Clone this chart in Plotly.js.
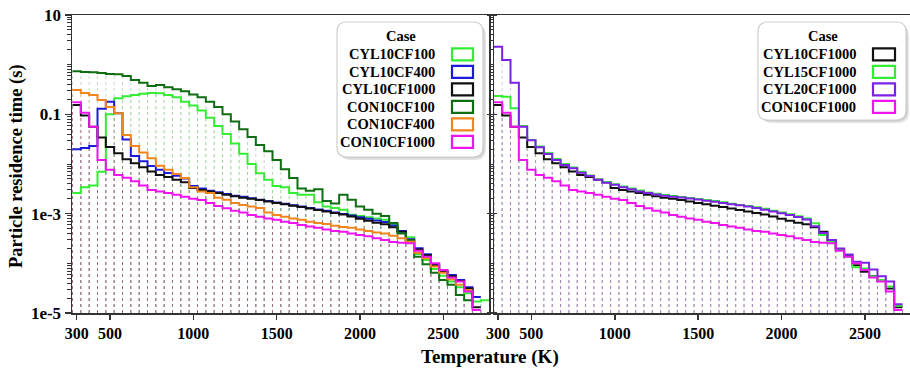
<!DOCTYPE html>
<html>
<head>
<meta charset="utf-8">
<script src="https://cdn.plot.ly/plotly-3.0.1.min.js"></script>
<style>
  html, body { margin: 0; padding: 0; background: #fff; }
  #chart { width: 910px; height: 371px; }
</style>
</head>
<body>
<div id="chart"></div>
<script>
// Temperature bin centres (K), 50 K wide bins
const tempBins = [300, 350, 400, 450, 500, 550, 600, 650, 700, 750,
  800, 850, 900, 950, 1000, 1050, 1100, 1150, 1200, 1250,
  1300, 1350, 1400, 1450, 1500, 1550, 1600, 1650, 1700, 1750,
  1800, 1850, 1900, 1950, 2000, 2050, 2100, 2150, 2200, 2250,
  2300, 2350, 2400, 2450, 2500, 2550, 2600, 2650, 2700, 2750];

// Particle residence time (s) per temperature bin
const cyl10cf100 = [0.0026, 0.0034, 0.0037, 0.007, 0.1, 0.21, 0.23, 0.245, 0.26, 0.27,
  0.265, 0.245, 0.22, 0.18, 0.15, 0.12, 0.085, 0.058, 0.04, 0.026,
  0.016, 0.01, 0.0065, 0.0048, 0.0036, 0.0034, 0.0026, 0.0024, 0.0024, 0.0017,
  0.0014, 0.0013, 0.0012, 0.00095, 0.0009, 0.00085, 0.0008, 0.00075, 0.0006, 0.00045,
  0.000334, 0.000154, 0.000117, 0.000077, 0.000056, 0.000043, 0.000033, 0.000025, 0.000017, 0.000018];

const cyl10cf400 = [0.0197, 0.021, 0.023, 0.13, 0.18, 0.105, 0.031, 0.0145, 0.0113, 0.0091,
  0.0077, 0.0066, 0.0058, 0.0051, 0.0036, 0.0032, 0.0029, 0.0027, 0.0025, 0.0023,
  0.0022, 0.00205, 0.0019, 0.0018, 0.00168, 0.00158, 0.00148, 0.0014, 0.0013, 0.00122,
  0.00114, 0.00106, 0.00099, 0.00092, 0.00085, 0.00079, 0.00073, 0.00068, 0.00058, 0.00045,
  0.000305, 0.000201, 0.000152, 0.000097, 0.00007, 0.000058, 0.000046, 0.000033, 0.000021, null];

const cyl10cf1000 = [0.155, 0.095, 0.056, 0.034, 0.022, 0.0165, 0.0125, 0.0104, 0.0086, 0.0071,
  0.006, 0.0055, 0.0048, 0.0043, 0.0033, 0.003, 0.0028, 0.0026, 0.0024, 0.00225,
  0.0021, 0.002, 0.00188, 0.00175, 0.00164, 0.00154, 0.00145, 0.00136, 0.00127, 0.00119,
  0.00111, 0.00103, 0.00096, 0.00088, 0.00079, 0.00072, 0.00066, 0.00061, 0.00053, 0.00043,
  0.00029, 0.00019, 0.000145, 0.000092, 0.000068, 0.000055, 0.000044, 0.000031, 0.000013, null];

const con10cf100 = [0.74, 0.71, 0.70, 0.68, 0.65, 0.64, 0.59, 0.49, 0.43, 0.37,
  0.39, 0.35, 0.32, 0.29, 0.25, 0.22, 0.18, 0.14, 0.10, 0.072,
  0.05, 0.035, 0.024, 0.018, 0.012, 0.0078, 0.0052, 0.0032, 0.0029, 0.0031,
  0.0018, 0.0016, 0.0024, 0.0019, 0.0014, 0.0012, 0.001, 0.0009, 0.00065, 0.0004,
  0.00029, 0.000136, 0.000096, 0.000065, 0.000046, 0.000037, 0.000023, 0.000018, null, null];

const con10cf400 = [0.31, 0.27, 0.245, 0.195, 0.14, 0.105, 0.0385, 0.023, 0.017, 0.013,
  0.0092, 0.0077, 0.0063, 0.0052, 0.0034, 0.0028, 0.0026, 0.0021, 0.0019, 0.00164,
  0.0015, 0.0014, 0.0013, 0.00105, 0.00094, 0.00087, 0.0008, 0.00075, 0.00069, 0.00065,
  0.00062, 0.00057, 0.00054, 0.00052, 0.00048, 0.00045, 0.00042, 0.0004, 0.00036, 0.00032,
  0.000273, 0.000164, 0.000126, 0.000086, 0.000065, 0.000048, 0.000037, 0.000029, null, null];

const con10cf1000 = [0.175, 0.107, 0.056, 0.012, 0.0077, 0.006, 0.0053, 0.0045, 0.0037, 0.003,
  0.0028, 0.0026, 0.0024, 0.0022, 0.002, 0.00189, 0.00164, 0.00143, 0.00128, 0.00115,
  0.00105, 0.00094, 0.00087, 0.0008, 0.00075, 0.00069, 0.00065, 0.00059, 0.00055, 0.00052,
  0.00048, 0.00045, 0.00043, 0.0004, 0.00037, 0.00035, 0.00032, 0.000295, 0.00027, 0.00026,
  0.000253, 0.00018, 0.000136, 0.0001, 0.000073, 0.000052, 0.000043, 0.000027, 0.0000115, null];

const cyl15cf1000 = [0.234, 0.226, 0.132, 0.058, 0.0304, 0.0225, 0.0167, 0.0126, 0.01, 0.0085,
  0.007, 0.0059, 0.0049, 0.00434, 0.0039, 0.00353, 0.0032, 0.00293, 0.00268, 0.00253,
  0.00238, 0.00227, 0.00217, 0.00207, 0.00198, 0.00189, 0.0018, 0.00169, 0.00159, 0.0015,
  0.00143, 0.00134, 0.00125, 0.00115, 0.00106, 0.00097, 0.00089, 0.0008, 0.00064, 0.00037,
  0.000275, 0.00019, 0.000136, 0.000083, 0.000079, 0.000054, 0.000046, 0.000034, 0.000014, null];

const cyl20cf1000 = [2.3, 1.24, 0.43, 0.056, 0.03, 0.0217, 0.0159, 0.0121, 0.0096, 0.0082,
  0.0067, 0.0057, 0.0048, 0.0042, 0.0038, 0.0034, 0.0031, 0.0028, 0.0026, 0.00244,
  0.0023, 0.0022, 0.00212, 0.00203, 0.00193, 0.00183, 0.00174, 0.00164, 0.00154, 0.00147,
  0.0014, 0.0013, 0.0012, 0.0011, 0.00102, 0.00094, 0.00086, 0.00076, 0.00056, 0.00041,
  0.000295, 0.0002, 0.00015, 0.000108, 0.000103, 0.000075, 0.000055, 0.000043, 0.000015, null];

// Cases shown in each panel, in legend order
const leftCases = ['CYL10CF100', 'CYL10CF400', 'CYL10CF1000', 'CON10CF100', 'CON10CF400', 'CON10CF1000'];
const rightCases = ['CYL10CF1000', 'CYL15CF1000', 'CYL20CF1000', 'CON10CF1000'];

// Axis ticks
const xTickVals = [300, 500, 1000, 1500, 2000, 2500];
const yTickVals = [1e-5, 1e-3, 0.1, 10];
const yTickText = ['1e-5', '1e-3', '0.1', '10'];

const caseValues = {
  CYL10CF100: cyl10cf100, CYL10CF400: cyl10cf400, CYL10CF1000: cyl10cf1000,
  CON10CF100: con10cf100, CON10CF400: con10cf400, CON10CF1000: con10cf1000,
  CYL15CF1000: cyl15cf1000, CYL20CF1000: cyl20cf1000
};
const caseColor = {
  CYL10CF100: '#35ec35', CYL10CF400: '#1c1cd8', CYL10CF1000: '#111111',
  CON10CF100: '#0f6e12', CON10CF400: '#f0851f', CON10CF1000: '#ee14ee',
  CYL15CF1000: '#35ec35', CYL20CF1000: '#7b22e4'
};

const halfBin = (tempBins[1] - tempBins[0]) / 2;
const edges = tempBins.map(t => t - halfBin).concat([tempBins[tempBins.length - 1] + halfBin]);
const yFloor = 1e-5;

// Solid step outline of a histogram
function stepTrace(vals, color, xa, ya) {
  let last = vals.length - 1;
  while (last >= 0 && vals[last] == null) last--;
  return {
    type: 'scatter', mode: 'lines', xaxis: xa, yaxis: ya,
    x: edges.slice(0, last + 2),
    y: vals.slice(0, last + 1).concat([vals[last]]),
    line: { shape: 'hv', color: color, width: 2 },
    hoverinfo: 'skip', showlegend: false
  };
}

// Faint dotted bar edges dropping to the axis floor
function edgeTrace(vals, color, xa, ya) {
  const x = [], y = [];
  for (let i = 0; i <= vals.length; i++) {
    const a = i > 0 ? vals[i - 1] : null;
    const b = i < vals.length ? vals[i] : null;
    const top = Math.max(a || 0, b || 0);
    if (!top) continue;
    x.push(edges[i], edges[i], null);
    y.push(yFloor, top, null);
  }
  return {
    type: 'scatter', mode: 'lines', xaxis: xa, yaxis: ya, x: x, y: y,
    line: { color: color, width: 1, dash: 'dot' }, opacity: 0.25,
    hoverinfo: 'skip', showlegend: false
  };
}

const traces = [];
leftCases.forEach(c => traces.push(edgeTrace(caseValues[c], caseColor[c], 'x', 'y')));
rightCases.forEach(c => traces.push(edgeTrace(caseValues[c], caseColor[c], 'x2', 'y2')));
leftCases.forEach(c => traces.push(stepTrace(caseValues[c], caseColor[c], 'x', 'y')));
rightCases.forEach(c => traces.push(stepTrace(caseValues[c], caseColor[c], 'x2', 'y2')));

// Page geometry (pixels) for the plot area
const M = { l: 72, r: 0, t: 15, b: 58 };
const W = 910 - M.l - M.r, H = 371 - M.t - M.b;
const PX = v => (v - M.l) / W;
const PY = v => (M.t + H - v) / H;

const serif = 'Liberation Serif, Times New Roman, serif';
const tickFont = { family: serif, size: 16, color: '#000', weight: 'bold' };
const legendFont = { family: serif, size: 14.5, color: '#000', weight: 'bold' };

function roundedPath(x0, y0, x1, y1, r) {
  const X = v => PX(v).toFixed(5), Y = v => PY(v).toFixed(5);
  return `M${X(x0 + r)},${Y(y0)} L${X(x1 - r)},${Y(y0)} Q${X(x1)},${Y(y0)} ${X(x1)},${Y(y0 + r)} ` +
    `L${X(x1)},${Y(y1 - r)} Q${X(x1)},${Y(y1)} ${X(x1 - r)},${Y(y1)} ` +
    `L${X(x0 + r)},${Y(y1)} Q${X(x0)},${Y(y1)} ${X(x0)},${Y(y1 - r)} ` +
    `L${X(x0)},${Y(y0 + r)} Q${X(x0)},${Y(y0)} ${X(x0 + r)},${Y(y0)} Z`;
}

const shapes = [];
const annotations = [];

// Hand-built legend: right-aligned names with outlined swatches on the right
function addLegend(cases, box, textRight, swatchX0, swatchX1, titleX) {
  shapes.push({ type: 'path', xref: 'paper', yref: 'paper', layer: 'above',
    path: roundedPath(box[0] + 3, box[1] + 3, box[2] + 3, box[3] + 3, 11),
    fillcolor: 'rgba(0,0,0,0.10)', line: { width: 0 } });
  shapes.push({ type: 'path', xref: 'paper', yref: 'paper', layer: 'above',
    path: roundedPath(box[0] + 1.5, box[1] + 1.5, box[2] + 1.5, box[3] + 1.5, 11),
    fillcolor: 'rgba(0,0,0,0.10)', line: { width: 0 } });
  shapes.push({ type: 'path', xref: 'paper', yref: 'paper', layer: 'above',
    path: roundedPath(box[0], box[1], box[2], box[3], 10),
    fillcolor: '#ffffff', line: { color: '#d0d0d0', width: 1.2 } });
  annotations.push({ xref: 'paper', yref: 'paper', x: PX(titleX), y: PY(36),
    xanchor: 'center', yanchor: 'middle', showarrow: false, text: 'Case', font: legendFont });
  cases.forEach((c, i) => {
    const rowY = 54.3 + i * 17.5;
    annotations.push({ xref: 'paper', yref: 'paper', x: PX(textRight), y: PY(rowY),
      xanchor: 'right', yanchor: 'middle', showarrow: false, text: c, font: legendFont });
    shapes.push({ type: 'rect', xref: 'paper', yref: 'paper', layer: 'above',
      x0: PX(swatchX0), x1: PX(swatchX1), y0: PY(rowY - 6), y1: PY(rowY + 6),
      fillcolor: '#ffffff', line: { color: caseColor[c], width: 2.2 } });
  });
}
addLegend(leftCases, [337, 22, 483, 157], 437, 452, 473, 401);
addLegend(rightCases, [758, 22, 906, 120], 858, 873, 895, 823);

annotations.push({ xref: 'paper', yref: 'paper', x: PX(490), y: PY(357),
  xanchor: 'center', yanchor: 'middle', showarrow: false, text: 'Temperature (K)',
  font: { family: serif, size: 19, color: '#000', weight: 'bold' } });
annotations.push({ xref: 'paper', yref: 'paper', x: PX(16), y: PY(166),
  xanchor: 'center', yanchor: 'middle', showarrow: false, textangle: -90,
  text: 'Particle residence time (s)',
  font: { family: serif, size: 18.5, color: '#000', weight: 'bold' } });

const xCommon = {
  tickmode: 'array', tickvals: xTickVals, ticks: 'outside', ticklen: 5, tickwidth: 1.5,
  tickcolor: '#333', showline: true, linecolor: '#333', linewidth: 1.5, mirror: true,
  showgrid: false, zeroline: false, tickfont: tickFont, fixedrange: true
};
const yCommon = {
  type: 'log', range: [Math.log10(yFloor), 1], tickmode: 'array', tickvals: yTickVals,
  ticks: 'outside', ticklen: 6, tickwidth: 1.5, tickcolor: '#333',
  minor: { dtick: 'D1', ticks: 'outside', ticklen: 3.5, tickwidth: 1, tickcolor: '#333', showgrid: false },
  showline: true, linecolor: '#333', linewidth: 1.5, showgrid: false, zeroline: false,
  fixedrange: true
};

const layout = {
  width: 910, height: 371, margin: M,
  paper_bgcolor: '#fff', plot_bgcolor: '#fff', showlegend: false,
  xaxis: Object.assign({}, xCommon, { domain: [0, PX(489)], range: [272, 2774], anchor: 'y' }),
  xaxis2: Object.assign({}, xCommon, { domain: [PX(494), 1], range: [276, 2770], anchor: 'y2' }),
  yaxis: Object.assign({}, yCommon, { domain: [0, 1], anchor: 'x', mirror: 'ticks',
    ticktext: yTickText, tickfont: { family: serif, size: 17, color: '#000', weight: 'bold' } }),
  yaxis2: Object.assign({}, yCommon, { domain: [0, 1], anchor: 'x2', showticklabels: false }),
  shapes: shapes, annotations: annotations
};

Plotly.newPlot('chart', traces, layout, { displayModeBar: false, staticPlot: true });
</script>
</body>
</html>
